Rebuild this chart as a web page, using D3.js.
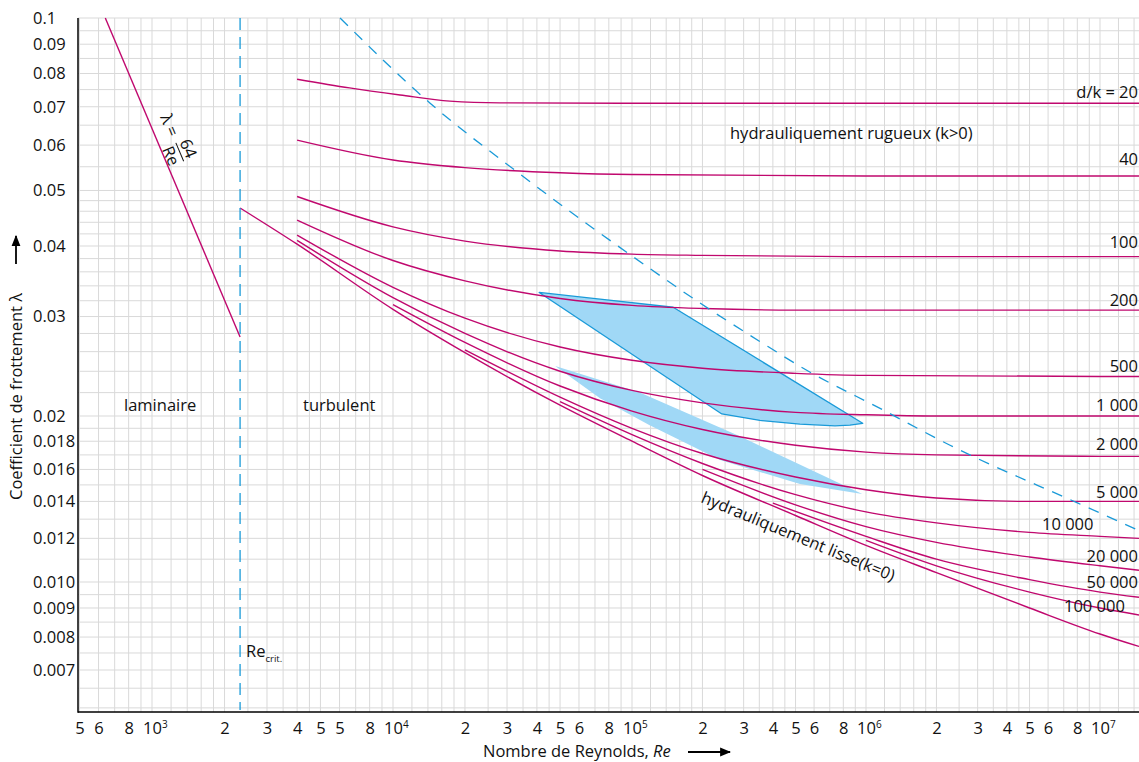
<!DOCTYPE html>
<html><head><meta charset="utf-8">
<script src="https://cdn.jsdelivr.net/npm/d3@7"></script>
<style>
body{margin:0;background:#fff;}
svg text{font-family:"Open Sans",sans-serif;fill:#111;}
</style></head><body>
<svg id="c" width="1139" height="762"></svg>
<script>
// ---------------- DATA ----------------
const xTickValues = [500,600,800,1e3,2e3,3e3,4e3,5e3,6e3,8e3,1e4,2e4,3e4,4e4,5e4,6e4,8e4,1e5,2e5,3e5,4e5,5e5,6e5,8e5,1e6,2e6,3e6,4e6,5e6,6e6,8e6,1e7];
const xTickLabels = ["5","6","8","10^3","2","3","4","5","5","8","10^4","2","3","4","5","6","8","10^5","2","3","4","5","6","8","10^6","2","3","4","5","6","8","10^7"];
const yTickValues = [0.1,0.09,0.08,0.07,0.06,0.05,0.04,0.03,0.02,0.018,0.016,0.014,0.012,0.010,0.009,0.008,0.007];
const yTickLabels = ["0.1","0.09","0.08","0.07","0.06","0.05","0.04","0.03","0.02","0.018","0.016","0.014","0.012","0.010","0.009","0.008","0.007"];
const xGridMantissas = [1,1.2,1.4,1.6,1.8,2,2.5,3,3.5,4,4.5,5,6,7,8,9];
const yGridValues = [0.1,0.095,0.09,0.085,0.08,0.075,0.07,0.065,0.06,0.055,0.05,0.048,0.046,0.044,0.042,0.04,0.038,0.036,0.034,0.032,0.03,0.028,0.026,0.024,0.022,0.02,0.019,0.018,0.017,0.016,0.015,0.014,0.013,0.012,0.011,0.010,0.0095,0.009,0.0085,0.008,0.0075,0.007,0.0065,0.006];

// laminar  lambda = 64/Re
const laminarRe = [640, 2320];
const laminarLambda = [0.1, 0.0276];
const reCrit = 2320;

// hydraulically smooth (k = 0)
const smoothRe = [2320,4000,1e4,2e4,5e4,1e5,2e5,5e5,1e6,2e6,5e6,1e7,1.47e7];
const smoothLambda = [0.0466,0.0403,0.0309,0.0259,0.0209,0.0180,0.0156,0.0132,0.01165,0.0104,0.0090,0.0081,0.0077];

// relative roughness curves d/k
const rough20Re = [4000,6600,1.07e4,1.73e4,2.8e4,1e5,1e6,1.47e7];
const rough20Lambda = [0.0782,0.0755,0.0734,0.0716,0.0711,0.0710,0.0710,0.0710];
const rough40Re = [4000,1e4,2e4,5e4,1e5,1e6,1.47e7];
const rough40Lambda = [0.0612,0.0565,0.0548,0.0537,0.0533,0.0530,0.0530];
const rough100Re = [4000,1e4,2e4,5e4,1e5,2e5,1e6,1.47e7];
const rough100Lambda = [0.0488,0.0432,0.0408,0.0392,0.0387,0.0385,0.0383,0.0383];
const rough200Re = [4000,1e4,2e4,5e4,1e5,2e5,5e5,1e6,1.47e7];
const rough200Lambda = [0.0444,0.0377,0.0347,0.0323,0.0314,0.0310,0.0308,0.0308,0.0308];
const rough500Re = [4000,1e4,2e4,5e4,1e5,2e5,5e5,1e6,1e7,1.47e7];
const rough500Lambda = [0.0418,0.0338,0.0298,0.0265,0.0251,0.0243,0.0238,0.0236,0.0235,0.0235];
const rough1000Re = [4000,1e4,2e4,5e4,1e5,2e5,5e5,1e6,2e6,1e7,1.47e7];
const rough1000Lambda = [0.0409,0.0324,0.0280,0.0240,0.0222,0.0211,0.0203,0.0201,0.0200,0.0200,0.0200];
const rough2000Re = [1e4,2e4,5e4,1e5,2e5,5e5,1e6,2e6,1e7,1.47e7];
const rough2000Lambda = [0.0315,0.0270,0.0226,0.0204,0.0189,0.0177,0.0172,0.0170,0.0169,0.0169];
const rough5000Re = [2e4,5e4,1e5,2e5,5e5,1e6,2e6,5e6,1e7,1.47e7];
const rough5000Lambda = [0.0262,0.0216,0.0190,0.0171,0.0155,0.0147,0.0142,0.0140,0.0140,0.0140];
const rough10000Re = [5e4,1e5,2e5,5e5,1e6,2e6,5e6,1e7,1.47e7];
const rough10000Lambda = [0.0212,0.0185,0.0164,0.0144,0.0134,0.0128,0.0123,0.0121,0.0120];
const rough20000Re = [2e5,5e5,1e6,2e6,5e6,1e7,1.47e7];
const rough20000Lambda = [0.0160,0.0138,0.0126,0.0118,0.0111,0.0107,0.0105];
const rough50000Re = [4e5,1e6,2e6,5e6,1e7,1.47e7];
const rough50000Lambda = [0.0139,0.0121,0.0110,0.0101,0.0096,0.0094];
const rough100000Re = [1e6,2e6,5e6,1e7,1.47e7];
const rough100000Lambda = [0.0119,0.0107,0.0096,0.0090,0.00875];

// boundary of the fully rough regime (dashed)
const limitRe = [6030,1.43e4,3.4e4,1.214e5,1.953e5,3.52e5,5.58e5,1.182e6,2.286e6,8.05e6,1.47e7];
const limitLambda = [0.1,0.0710,0.0534,0.0363,0.0317,0.0271,0.0241,0.0205,0.0177,0.0139,0.0124];

// shaded zones
const zoneARe = [4.09e4,7.35e4,1.5e5,9.68e5,8.54e5,7.37e5,5.22e5,3.52e5,2.42e5];
const zoneALambda = [0.0331,0.0322,0.03116,0.0194,0.01925,0.0192,0.01934,0.01963,0.02017];
const zoneBRe = [4.77e4,1.08e5,2.89e5,9.64e5,5.22e5,2.38e5,1.19e5,7.35e4];
const zoneBLambda = [0.02453,0.0220,0.01838,0.01444,0.01506,0.01664,0.01925,0.0215];

// ---------------- CHART ----------------
const svg = d3.select("#c");
const x = d3.scaleLog().domain([493,1e3,1e4,1e5,1e6,1e7,1.47e7]).range([78,152,393,632,866,1100,1139]);
const y = d3.scaleLog().domain([0.1,0.04,0.02,0.01,0.007,0.0059]).range([18,246,416,582,670,712]);
const X0 = 78, X1 = 1139, Y0 = 18, Y1 = 712;
const FS = 16.5;

const magenta = "#c0086e", blue = "#1a9ad8", fillBlue = "#a0d8f6", gridC = "#d9d9d9";

// grid
const xGrid = [];
[100,1e3,1e4,1e5,1e6,1e7].forEach(d => xGridMantissas.forEach(m => { const v = m*d; if (v >= 493 && v <= 1.47e7) xGrid.push(v); }));
const grid = svg.append("g");
grid.selectAll("line.gx").data(xGrid).join("line")
  .attr("x1", d => x(d)).attr("x2", d => x(d)).attr("y1", Y0).attr("y2", Y1)
  .attr("stroke", gridC).attr("stroke-width", 1);
grid.selectAll("line.gy").data(yGridValues.filter(v => v >= 0.0059)).join("line")
  .attr("x1", X0).attr("x2", X1).attr("y1", d => y(d)).attr("y2", d => y(d))
  .attr("stroke", gridC).attr("stroke-width", 1);

const zip = (a, b) => a.map((v, i) => [v, b[i]]);
const areaLine = d3.line().x(d => x(d[0])).y(d => y(d[1])).curve(d3.curveLinearClosed);

// zones
svg.append("path").attr("d", areaLine(zip(zoneBRe, zoneBLambda))).attr("fill", fillBlue).attr("stroke", "none");
svg.append("path").attr("d", areaLine(zip(zoneARe, zoneALambda))).attr("fill", fillBlue).attr("stroke", blue).attr("stroke-width", 1.3).attr("stroke-linejoin", "round");

// curves
const curve = d3.line().x(d => x(d[0])).y(d => y(d[1])).curve(d3.curveMonotoneX);
const series = [
  [laminarRe, laminarLambda], [smoothRe, smoothLambda],
  [rough20Re, rough20Lambda], [rough40Re, rough40Lambda], [rough100Re, rough100Lambda], [rough200Re, rough200Lambda],
  [rough500Re, rough500Lambda], [rough1000Re, rough1000Lambda], [rough2000Re, rough2000Lambda], [rough5000Re, rough5000Lambda],
  [rough10000Re, rough10000Lambda], [rough20000Re, rough20000Lambda], [rough50000Re, rough50000Lambda], [rough100000Re, rough100000Lambda]
];
const cg = svg.append("g");
series.forEach(([r, l]) => {
  cg.append("path").attr("d", curve(zip(r, l))).attr("fill", "none").attr("stroke", magenta).attr("stroke-width", 1.4);
});

// dashed lines
svg.append("line").attr("x1", x(reCrit)).attr("x2", x(reCrit)).attr("y1", Y0).attr("y2", Y1 - 2)
  .attr("stroke", blue).attr("stroke-width", 1.3).attr("stroke-dasharray", "12,7");
svg.append("path").attr("d", curve(zip(limitRe, limitLambda)))
  .attr("fill", "none").attr("stroke", blue).attr("stroke-width", 1.3).attr("stroke-dasharray", "11,9");

// axes
const xAxis = svg.append("g").attr("transform", `translate(0,${Y1})`)
  .call(d3.axisBottom(x).tickValues(xTickValues).tickSize(0).tickPadding(10));
xAxis.select(".domain").remove();
xAxis.selectAll(".tick text").each(function(d, i) {
  const t = d3.select(this); const lab = xTickLabels[i];
  t.attr("font-size", FS).attr("font-family", "Open Sans").attr("fill", "#111");
  if (lab.includes("^")) {
    const [b, e] = lab.split("^");
    t.text(null).attr("text-anchor", "start").attr("x", -9.5);
    t.append("tspan").text(b);
    t.append("tspan").text(e).attr("font-size", 10).attr("dy", "-0.55em");
  } else t.text(lab);
});
const yAxis = svg.append("g").attr("transform", `translate(${X0},0)`)
  .call(d3.axisLeft(y).tickValues(yTickValues).tickSize(0));
yAxis.select(".domain").remove();
yAxis.selectAll(".tick text").attr("x", 33 - X0).attr("text-anchor", "start").attr("font-size", FS)
  .attr("font-family", "Open Sans").attr("fill", "#111").text((d, i) => yTickLabels[i]);

svg.append("line").attr("x1", X0).attr("x2", X0).attr("y1", Y0).attr("y2", Y1 + 0.75).attr("stroke", "#000").attr("stroke-width", 1.5);
svg.append("line").attr("x1", X0).attr("x2", X1).attr("y1", Y1).attr("y2", Y1).attr("stroke", "#000").attr("stroke-width", 1.5);

// arrow marker
const defs = svg.append("defs");
defs.append("marker").attr("id", "ah").attr("viewBox", "0 0 10 10").attr("refX", 9).attr("refY", 5)
  .attr("markerWidth", 11).attr("markerHeight", 11).attr("markerUnits", "userSpaceOnUse").attr("orient", "auto")
  .append("path").attr("d", "M0,1 L10,5 L0,9 Z").attr("fill", "#000");

// axis titles
const xt = svg.append("text").attr("x", 483).attr("y", 757).attr("font-size", FS);
xt.append("tspan").text("Nombre de Reynolds, ");
xt.append("tspan").text("Re").attr("font-style", "italic");
svg.append("line").attr("x1", 688).attr("x2", 730).attr("y1", 752).attr("y2", 752).attr("stroke", "#000").attr("stroke-width", 1.8).attr("marker-end", "url(#ah)");
svg.append("text").attr("transform", "translate(22,500) rotate(-90)").attr("font-size", FS).text("Coefficient de frottement λ");
svg.append("line").attr("x1", 16).attr("x2", 16).attr("y1", 264).attr("y2", 236).attr("stroke", "#000").attr("stroke-width", 1.8).attr("marker-end", "url(#ah)");

// annotations
const ann = (tx, ty, s, anchor) => {
  const t = svg.append("text").attr("x", tx).attr("y", ty).attr("font-size", FS).text(s);
  if (anchor) t.attr("text-anchor", anchor);
  return t;
};
ann(124, 411, "laminaire");
ann(303, 411, "turbulent");
ann(730, 139, "hydrauliquement rugueux (k>0)");
const rc = svg.append("text").attr("x", 246).attr("y", 657).attr("font-size", FS);
rc.append("tspan").text("Re");
rc.append("tspan").text("crit.").attr("font-size", 9.5).attr("dy", 5);
svg.append("text").attr("transform", "translate(700,502) rotate(22.5)").attr("font-size", FS).text("hydrauliquement lisse(k=0)");

// laminar formula
const lf = svg.append("g").attr("transform", "translate(160,117) rotate(67)");
lf.append("text").attr("x", 0).attr("y", 0).attr("font-size", FS).text("λ =");
lf.append("text").attr("x", 40).attr("y", -8).attr("text-anchor", "middle").attr("font-size", FS).text("64");
lf.append("line").attr("x1", 30).attr("x2", 50).attr("y1", -4.5).attr("y2", -4.5).attr("stroke", "#111").attr("stroke-width", 1);
lf.append("text").attr("x", 40).attr("y", 11).attr("text-anchor", "middle").attr("font-size", FS).text("Re");

// curve labels
const curveLabels = ["d/k = 20","40","100","200","500","1 000","2 000","5 000","10 000","20 000","50 000","100 000"];
const rightEnd = 1138;
const labelY = [98,165,248,306,372,411,450,498,null,562,588,null];
curveLabels.forEach((s, i) => { if (labelY[i] !== null) ann(rightEnd, labelY[i], s, "end"); });
ann(1042, 530, curveLabels[8]);
ann(1064, 612, curveLabels[11]);
</script>
</body></html>
